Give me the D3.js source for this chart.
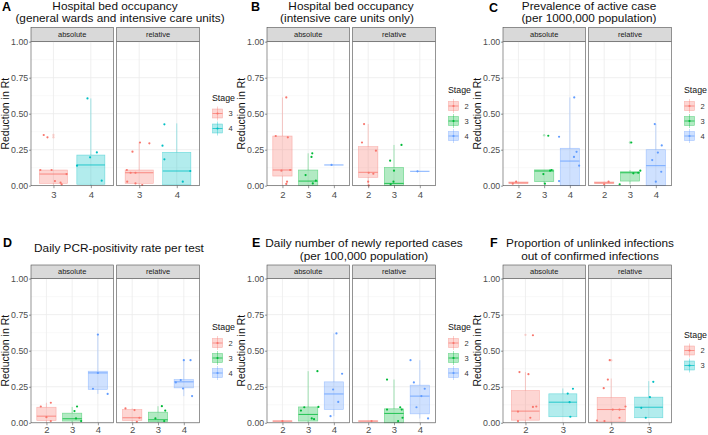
<!DOCTYPE html>
<html>
<head>
<meta charset="utf-8">
<script src="https://cdn.jsdelivr.net/npm/d3@7"></script>
<style>
  body { margin: 0; background: #fff; }
  text { font-family: "Liberation Sans", Arial, sans-serif; }
</style>
</head>
<body>
<script>
// ---- data: boxes are [stage, lower whisker, q1, median, q3, upper whisker]
// ---- points are [stage, value, jitter (in category units)], outliers [stage, value]
const facets = ["absolute", "relative"];
const yTicks = [0, 0.25, 0.5, 0.75, 1];

// A
const titleA = ["Hospital bed occupancy", "(general wards and intensive care units)"];
const stagesA = ["3", "4"];
const boxA_abs = [["3", 0.005, 0.016, 0.081, 0.109, 0.109], ["4", 0.0, 0.01, 0.144, 0.213, 0.606]];
const ptsA_abs = [["3", 0.352, -0.26], ["3", 0.336, -0.16], ["3", 0.109, -0.35], ["3", 0.109, -0.05],
  ["3", 0.081, 0.35], ["3", 0.032, 0.04], ["3", 0.021, 0.19], ["3", 0.009, 0.22],
  ["4", 0.606, -0.09], ["4", 0.231, 0.16], ["4", 0.197, -0.02], ["4", 0.139, -0.37], ["4", 0.035, 0.29]];
const outA_abs = [["3", 0.352], ["3", 0.336]];
const boxA_rel = [["3", 0.0, 0.016, 0.09, 0.109, 0.3], ["4", 0.005, 0.005, 0.102, 0.232, 0.433]];
const ptsA_rel = [["3", 0.3, 0.02], ["3", 0.294, 0.27], ["3", 0.236, -0.18], ["3", 0.109, -0.33],
  ["3", 0.09, -0.23], ["3", 0.09, -0.1], ["3", 0.028, -0.32], ["3", 0.016, -0.1], ["3", 0.005, 0.08],
  ["4", 0.426, -0.33], ["4", 0.278, -0.38], ["4", 0.183, -0.33], ["4", 0.102, 0.36], ["4", 0.028, 0.16]];
const outA_rel = [];

// B
const titleB = ["Hospital bed occupancy", "(intensive care units only)"];
const stagesB = ["2", "3", "4"];
const boxB_abs = [["2", 0.0, 0.067, 0.109, 0.345, 0.613], ["3", 0.0, 0.002, 0.032, 0.109, 0.225],
  ["4", 0.144, 0.144, 0.144, 0.144, 0.144]];
const ptsB_abs = [["2", 0.613, 0.15], ["2", 0.345, -0.26], ["2", 0.336, 0.21], ["2", 0.104, -0.04],
  ["2", 0.109, 0.3], ["2", 0.028, 0.18], ["2", 0.012, 0.15],
  ["3", 0.225, 0.16], ["3", 0.2, 0.13], ["3", 0.074, -0.1], ["3", 0.035, 0.3], ["3", 0.016, 0.18],
  ["4", 0.144, -0.09]];
const outB_abs = [];
const boxB_rel = [["2", 0.0, 0.058, 0.093, 0.271, 0.428], ["3", 0.0, 0.002, 0.016, 0.127, 0.283],
  ["4", 0.1, 0.1, 0.1, 0.1, 0.1]];
const ptsB_rel = [["2", 0.428, -0.16], ["2", 0.3, -0.24], ["2", 0.243, 0.3], ["2", 0.09, 0.02],
  ["2", 0.083, 0.2], ["2", 0.028, 0.0], ["2", 0.002, 0.02],
  ["3", 0.283, 0.29], ["3", 0.174, -0.15], ["3", 0.104, 0.0], ["3", 0.028, -0.02], ["3", 0.01, -0.13],
  ["4", 0.1, -0.09]];
const outB_rel = [];

// C
const titleC = ["Prevalence of active case", "(per 1000,000 population)"];
const stagesC = ["2", "3", "4"];
const boxC_abs = [["2", 0.012, 0.014, 0.02, 0.026, 0.028], ["3", 0.01, 0.028, 0.102, 0.11, 0.11],
  ["4", 0.0, 0.0, 0.171, 0.26, 0.613]];
const ptsC_abs = [["2", 0.028, -0.09], ["2", 0.014, -0.22],
  ["3", 0.347, 0.16], ["3", 0.081, -0.03], ["3", 0.104, 0.23], ["3", 0.109, 0.29], ["3", 0.014, 0.03],
  ["4", 0.613, 0.17], ["4", 0.34, -0.42], ["4", 0.235, 0.26], ["4", 0.2, 0.16], ["4", 0.139, 0.36],
  ["4", 0.032, -0.42]];
const outC_abs = [["3", 0.35]];
const boxC_rel = [["2", 0.01, 0.014, 0.02, 0.026, 0.028], ["3", 0.01, 0.032, 0.09, 0.097, 0.109],
  ["4", 0.0, 0.0, 0.139, 0.25, 0.428]];
const ptsC_rel = [["2", 0.028, 0.17], ["2", 0.01, 0.0],
  ["3", 0.3, 0.05], ["3", 0.086, 0.13], ["3", 0.09, 0.32], ["3", 0.104, 0.4], ["3", 0.01, -0.4],
  ["4", 0.428, -0.04], ["4", 0.28, 0.23], ["4", 0.23, 0.08], ["4", 0.178, -0.14], ["4", 0.097, 0.21],
  ["4", 0.028, 0.0]];
const outC_rel = [["3", 0.3]];

// D
const titleD = ["Daily PCR-positivity rate per test"];
const stagesD = ["2", "3", "4"];
const boxD_abs = [["2", 0.0, 0.016, 0.046, 0.108, 0.139], ["3", 0.0, 0.012, 0.028, 0.067, 0.11],
  ["4", 0.2, 0.231, 0.346, 0.358, 0.612]];
const ptsD_abs = [["2", 0.139, 0.17], ["2", 0.113, -0.22], ["2", 0.039, 0.0], ["2", 0.012, 0.17],
  ["3", 0.113, 0.19], ["3", 0.081, 0.09], ["3", 0.03, 0.15], ["3", 0.012, 0.35],
  ["4", 0.612, 0.0], ["4", 0.346, 0.0], ["4", 0.236, -0.19], ["4", 0.2, 0.38]];
const outD_abs = [];
const boxD_rel = [["2", 0.0, 0.016, 0.035, 0.092, 0.1], ["3", 0.0, 0.007, 0.021, 0.074, 0.115],
  ["4", 0.185, 0.242, 0.284, 0.3, 0.434]];
const ptsD_rel = [["2", 0.1, -0.26], ["2", 0.088, 0.09], ["2", 0.035, 0.28], ["2", 0.007, 0.18],
  ["3", 0.115, 0.15], ["3", 0.085, 0.28], ["3", 0.03, -0.1], ["3", 0.012, 0.24],
  ["4", 0.434, 0.0], ["4", 0.434, 0.26], ["4", 0.28, -0.31], ["4", 0.296, -0.12], ["4", 0.238, -0.03],
  ["4", 0.185, 0.32]];
const outD_rel = [];

// E
const titleE = ["Daily number of newly reported cases", "(per 100,000 population)"];
const stagesE = ["2", "3", "4"];
const boxE_abs = [["2", 0.01, 0.011, 0.012, 0.013, 0.014], ["3", 0.0, 0.012, 0.058, 0.11, 0.358],
  ["4", 0.046, 0.092, 0.2, 0.284, 0.62]];
const ptsE_abs = [["2", 0.012, 0.0],
  ["3", 0.358, 0.36], ["3", 0.085, -0.28], ["3", 0.108, -0.15], ["3", 0.11, 0.4], ["3", 0.03, 0.14],
  ["3", 0.025, 0.23],
  ["4", 0.62, 0.1], ["4", 0.34, 0.32], ["4", 0.231, -0.03], ["4", 0.145, 0.17], ["4", 0.046, -0.13]];
const outE_abs = [];
const boxE_rel = [["2", 0.01, 0.011, 0.012, 0.013, 0.014], ["3", 0.0, 0.0, 0.065, 0.097, 0.3],
  ["4", 0.03, 0.062, 0.185, 0.261, 0.434]];
const ptsE_rel = [["2", 0.012, 0.13],
  ["3", 0.3, -0.27], ["3", 0.092, -0.27], ["3", 0.108, 0.24], ["3", 0.092, 0.3], ["3", 0.035, 0.33],
  ["3", 0.012, 0.16],
  ["4", 0.434, -0.36], ["4", 0.28, -0.23], ["4", 0.236, 0.19], ["4", 0.185, 0.06], ["4", 0.108, -0.13],
  ["4", 0.03, 0.32]];
const outE_rel = [];

// F
const titleF = ["Proportion of unlinked infections", "out of confirmed infections"];
const stagesF = ["2", "3"];
const boxF_abs = [["2", 0.0, 0.018, 0.081, 0.224, 0.352], ["3", 0.042, 0.042, 0.143, 0.201, 0.238]];
const ptsF_abs = [["2", 0.607, 0.2], ["2", 0.352, -0.16], ["2", 0.337, 0.08], ["2", 0.11, 0.2],
  ["2", 0.113, 0.29], ["2", 0.078, -0.2], ["2", 0.035, 0.13], ["2", 0.012, -0.2],
  ["3", 0.236, 0.27], ["3", 0.203, 0.13], ["3", 0.143, 0.18], ["3", 0.042, 0.2]];
const outF_abs = [["2", 0.61]];
const boxF_rel = [["2", 0.0, 0.007, 0.092, 0.176, 0.307], ["3", 0.035, 0.035, 0.108, 0.178, 0.289]];
const ptsF_rel = [["2", 0.434, -0.04], ["2", 0.3, -0.09], ["2", 0.24, -0.2], ["2", 0.092, 0.04],
  ["2", 0.092, 0.22], ["2", 0.113, 0.38], ["2", 0.035, 0.22], ["2", 0.012, -0.18], ["2", 0.016, -0.38],
  ["3", 0.284, 0.12], ["3", 0.178, 0.03], ["3", 0.104, -0.2], ["3", 0.035, -0.08]];
const outF_rel = [["2", 0.434]];

// ---- layout
const w = 708, h = 435;
const colX = [0, 236, 472];
const rows = [
  { strip: 27.5, top: 41.7, bottom: 185.7, pad: 3 },
  { strip: 265, top: 278.6, bottom: 422.8, pad: 0.5 }
];
const facetX = [[31, 113.3], [116.7, 199.3]];
const font = '"Liberation Sans", Arial, sans-serif';

const panels = [
  { tag: "A", col: 0, row: 0, title: titleA, tx: [115, 120], ty: [9.5, 22], tagX: 2, tagY: 10.5,
    stages: stagesA, data: [[boxA_abs, ptsA_abs, outA_abs], [boxA_rel, ptsA_rel, outA_rel]] },
  { tag: "B", col: 1, row: 0, title: titleB, tx: [351, 347], ty: [9.5, 22], tagX: 251, tagY: 11,
    stages: stagesB, data: [[boxB_abs, ptsB_abs, outB_abs], [boxB_rel, ptsB_rel, outB_rel]] },
  { tag: "C", col: 2, row: 0, title: titleC, tx: [589, 589], ty: [9.5, 22], tagX: 489, tagY: 11.5,
    stages: stagesC, data: [[boxC_abs, ptsC_abs, outC_abs], [boxC_rel, ptsC_rel, outC_rel]] },
  { tag: "D", col: 0, row: 1, title: titleD, tx: [119], ty: [251.5], tagX: 3, tagY: 246.5,
    stages: stagesD, data: [[boxD_abs, ptsD_abs, outD_abs], [boxD_rel, ptsD_rel, outD_rel]] },
  { tag: "E", col: 1, row: 1, title: titleE, tx: [364, 364], ty: [246.5, 260], tagX: 252, tagY: 246.5,
    stages: stagesE, data: [[boxE_abs, ptsE_abs, outE_abs], [boxE_rel, ptsE_rel, outE_rel]] },
  { tag: "F", col: 2, row: 1, title: titleF, tx: [590, 590], ty: [246.5, 260], tagX: 490, tagY: 246.5,
    stages: stagesF, data: [[boxF_abs, ptsF_abs, outF_abs], [boxF_rel, ptsF_rel, outF_rel]] }
];

function colorsFor(stages) {
  return stages.length === 3 ? ["#F8766D", "#00BA38", "#619CFF"] : ["#F8766D", "#00BFC4"];
}

const svg = d3.select("body").append("svg").attr("width", w).attr("height", h);
svg.append("rect").attr("width", w).attr("height", h).attr("fill", "#fff");

panels.forEach(function (p) {
  const ox = colX[p.col];
  const r = rows[p.row];
  const g = svg.append("g");
  const color = d3.scaleOrdinal().domain(p.stages).range(colorsFor(p.stages));
  const y = d3.scaleLinear().domain([0, 1]).range([r.bottom, r.top]);

  // titles
  p.title.forEach(function (t, i) {
    g.append("text").attr("x", p.tx[i]).attr("y", p.ty[i]).attr("text-anchor", "middle")
      .attr("font-size", 11.8).attr("fill", "#111").text(t);
  });
  g.append("text").attr("x", p.tagX).attr("y", p.tagY).attr("font-size", 12.5)
    .attr("font-weight", "bold").attr("fill", "#000").text(p.tag);

  // y axis title
  const yc = (r.top + r.bottom) / 2;
  g.append("text").attr("transform", "translate(" + (ox + 9) + "," + yc + ") rotate(-90)")
    .attr("text-anchor", "middle").attr("font-size", 10.5).attr("fill", "#111").text("Reduction in Rt");

  // y axis (left of first facet)
  const yAxis = d3.axisLeft(y).tickValues(yTicks).tickFormat(d3.format(".2f")).tickSize(2).tickPadding(0.8);
  const ga = g.append("g").attr("transform", "translate(" + (ox + facetX[0][0]) + ",0)").call(yAxis);
  ga.select(".domain").remove();
  ga.selectAll("line").attr("stroke", "#333").attr("stroke-width", 0.5);
  ga.selectAll("text").attr("font-size", 8.8).attr("fill", "#4D4D4D").style("font-family", font);

  facets.forEach(function (fname, fi) {
    const x0 = ox + facetX[fi][0], x1 = ox + facetX[fi][1];
    const x = d3.scalePoint().domain(p.stages).range([x0, x1]).padding(0.6);
    const step = x.step();
    const [boxes, pts, outs] = p.data[fi];
    const f = g.append("g");

    // strip
    f.append("rect").attr("x", x0).attr("y", r.strip).attr("width", x1 - x0).attr("height", r.top - r.strip)
      .attr("fill", "#D9D9D9").attr("stroke", "#4d4d4d").attr("stroke-width", 0.6);
    f.append("text").attr("x", (x0 + x1) / 2).attr("y", (r.strip + r.top) / 2 + 2.6)
      .attr("text-anchor", "middle").attr("font-size", 7.5).attr("fill", "#1A1A1A").text(fname);

    // grid
    const minor = [0.125, 0.375, 0.625, 0.875];
    f.selectAll(".minor").data(minor).enter().append("line")
      .attr("x1", x0).attr("x2", x1).attr("y1", (d) => y(d)).attr("y2", (d) => y(d))
      .attr("stroke", "#F2F2F2").attr("stroke-width", 0.5);
    f.selectAll(".major").data(yTicks).enter().append("line")
      .attr("x1", x0).attr("x2", x1).attr("y1", (d) => y(d)).attr("y2", (d) => y(d))
      .attr("stroke", "#EBEBEB").attr("stroke-width", 0.8);
    f.selectAll(".vgrid").data(p.stages).enter().append("line")
      .attr("x1", (d) => x(d)).attr("x2", (d) => x(d)).attr("y1", r.top).attr("y2", r.bottom)
      .attr("stroke", "#EBEBEB").attr("stroke-width", 0.8);

    // boxplots
    const bw = step * 0.75;
    boxes.forEach(function (b) {
      const [s, lo, q1, med, q3, hi] = b;
      const cx = x(s), c = color(s);
      f.append("line").attr("x1", cx).attr("x2", cx).attr("y1", y(hi)).attr("y2", y(q3))
        .attr("stroke", c).attr("stroke-opacity", 0.6).attr("stroke-width", 0.6);
      f.append("line").attr("x1", cx).attr("x2", cx).attr("y1", y(q1)).attr("y2", y(lo))
        .attr("stroke", c).attr("stroke-opacity", 0.6).attr("stroke-width", 0.6);
      f.append("rect").attr("x", cx - bw / 2).attr("width", bw)
        .attr("y", y(q3)).attr("height", Math.max(0, y(q1) - y(q3)))
        .attr("fill", c).attr("fill-opacity", 0.3)
        .attr("stroke", c).attr("stroke-opacity", 0.5).attr("stroke-width", 0.6);
      f.append("line").attr("x1", cx - bw / 2).attr("x2", cx + bw / 2).attr("y1", y(med)).attr("y2", y(med))
        .attr("stroke", c).attr("stroke-opacity", 0.9).attr("stroke-width", 0.9);
    });

    // outliers drawn by the boxplot (faint)
    f.selectAll(".out").data(outs).enter().append("circle")
      .attr("cx", (d) => x(d[0])).attr("cy", (d) => y(d[1])).attr("r", 1.2)
      .attr("fill", (d) => color(d[0])).attr("fill-opacity", 0.3);

    // jittered points
    f.selectAll(".pt").data(pts).enter().append("circle")
      .attr("cx", (d) => x(d[0]) + d[2] * step).attr("cy", (d) => y(d[1])).attr("r", 1.1)
      .attr("fill", (d) => color(d[0]));

    // panel border
    f.append("rect").attr("x", x0).attr("y", r.top).attr("width", x1 - x0).attr("height", r.bottom - r.top)
      .attr("fill", "none").attr("stroke", "#4d4d4d").attr("stroke-width", 0.6);

    // x axis
    const xAxis = d3.axisBottom(x).tickSize(2.5).tickPadding(r.pad);
    const gx = f.append("g").attr("transform", "translate(0," + r.bottom + ")").call(xAxis);
    gx.select(".domain").remove();
    gx.selectAll("line").attr("stroke", "#333").attr("stroke-width", 0.5);
    gx.selectAll("text").attr("font-size", 9.5).attr("fill", "#4D4D4D").style("font-family", font);
  });

  // legend
  const n = p.stages.length;
  const stageY = yc - 1.7 - 7.5 * n;
  const lx = ox + 212.5;
  g.append("text").attr("x", lx - 0.5).attr("y", stageY + 3.5).attr("font-size", 8.8)
    .attr("fill", "#111").text("Stage");
  const keys = g.selectAll(".key").data(p.stages).enter().append("g")
    .attr("transform", (d, i) => "translate(" + lx + "," + (stageY + 16.5 + 15 * i) + ")");
  keys.append("line").attr("x1", 5).attr("x2", 5).attr("y1", -7).attr("y2", 7)
    .attr("stroke", (d) => color(d)).attr("stroke-opacity", 0.6).attr("stroke-width", 0.6);
  keys.append("rect").attr("x", 0).attr("y", -4.5).attr("width", 10).attr("height", 9)
    .attr("fill", (d) => color(d)).attr("fill-opacity", 0.3)
    .attr("stroke", (d) => color(d)).attr("stroke-opacity", 0.5).attr("stroke-width", 0.6);
  keys.append("line").attr("x1", 0).attr("x2", 10).attr("y1", 0).attr("y2", 0)
    .attr("stroke", (d) => color(d)).attr("stroke-opacity", 0.9).attr("stroke-width", 0.8);
  keys.append("circle").attr("cx", 5).attr("cy", 0).attr("r", 1.1).attr("fill", (d) => color(d));
  keys.append("text").attr("x", 16).attr("y", 2.5).attr("font-size", 7.5).attr("fill", "#333")
    .text((d) => d);
});
</script>
</body>
</html>
